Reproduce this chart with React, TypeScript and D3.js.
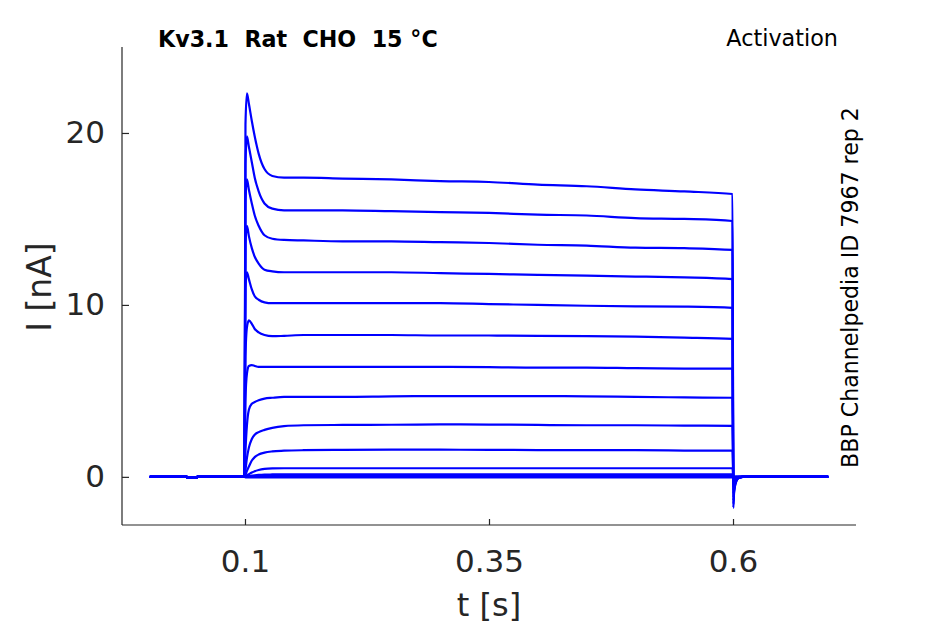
import React, { useEffect, useRef } from "react";
import * as d3 from "d3";

// time knots (s)
const baseTimes = [0.0025, 0.0405, 0.041, 0.0505, 0.051, 0.0995];
const baseCurrent = [0, 0, -0.04, -0.04, 0, 0];
const pulseTimes = [0.1005, 0.102, 0.104, 0.107, 0.11, 0.114, 0.12, 0.128, 0.14, 0.16, 0.2, 0.25, 0.3, 0.35, 0.4, 0.45, 0.5, 0.55, 0.5995];
const tailTimes = [0.6003, 0.601, 0.602, 0.6035, 0.606, 0.61, 0.6975];

// currents (nA) during pulse, then tail
const sweep1 = [20.5, 22.3, 21.7, 20.7, 19.8, 18.8, 17.9, 17.5, 17.4, 17.4, 17.35, 17.3, 17.2, 17.15, 17.0, 16.9, 16.72, 16.6, 16.45, -1.8, -1.0, -0.55, -0.25, -0.06, 0, 0];
const sweep2 = [18.2, 19.8, 19.2, 18.3, 17.4, 16.6, 15.9, 15.6, 15.5, 15.5, 15.5, 15.45, 15.4, 15.35, 15.25, 15.2, 15.05, 15.0, 14.88, -1.6, -0.9, -0.5, -0.22, -0.05, 0, 0];
const sweep3 = [16.0, 17.3, 16.7, 15.9, 15.2, 14.6, 14.05, 13.85, 13.78, 13.75, 13.7, 13.7, 13.65, 13.6, 13.5, 13.45, 13.33, 13.3, 13.2, -1.4, -0.8, -0.45, -0.2, -0.05, 0, 0];
const sweep4 = [13.5, 14.6, 14.0, 13.3, 12.8, 12.4, 12.05, 11.95, 11.9, 11.9, 11.9, 11.9, 11.85, 11.8, 11.75, 11.7, 11.65, 11.6, 11.5, -1.2, -0.7, -0.4, -0.18, -0.04, 0, 0];
const sweep5 = [11.0, 11.9, 11.5, 10.9, 10.5, 10.3, 10.15, 10.1, 10.1, 10.1, 10.1, 10.1, 10.1, 10.05, 10.0, 9.95, 9.92, 9.9, 9.83, -1.0, -0.6, -0.33, -0.15, -0.03, 0, 0];
const sweep6 = [7.0, 8.7, 9.1, 8.9, 8.6, 8.4, 8.25, 8.18, 8.2, 8.25, 8.25, 8.25, 8.22, 8.22, 8.2, 8.18, 8.15, 8.1, 8.02, -0.8, -0.45, -0.25, -0.12, -0.03, 0, 0];
const sweep7 = [4.5, 6.0, 6.45, 6.5, 6.45, 6.4, 6.4, 6.4, 6.4, 6.4, 6.4, 6.4, 6.4, 6.38, 6.35, 6.35, 6.32, 6.3, 6.3, -0.6, -0.35, -0.2, -0.09, -0.02, 0, 0];
const sweep8 = [1.5, 3.0, 3.9, 4.25, 4.35, 4.45, 4.55, 4.6, 4.65, 4.65, 4.65, 4.68, 4.7, 4.7, 4.7, 4.68, 4.65, 4.62, 4.6, -0.45, -0.25, -0.14, -0.06, -0.01, 0, 0];
const sweep9 = [0.4, 1.1, 1.7, 2.2, 2.45, 2.6, 2.73, 2.85, 2.95, 3.0, 3.02, 3.03, 3.05, 3.04, 3.02, 3.0, 3.0, 2.98, 2.97, -0.3, -0.17, -0.1, -0.04, -0.01, 0, 0];
const sweep10 = [0.1, 0.35, 0.6, 0.95, 1.15, 1.3, 1.41, 1.48, 1.52, 1.55, 1.57, 1.58, 1.58, 1.57, 1.56, 1.55, 1.55, 1.53, 1.52, -0.15, -0.08, -0.05, -0.02, 0, 0, 0];
const sweep11 = [0.02, 0.08, 0.15, 0.25, 0.33, 0.4, 0.46, 0.49, 0.5, 0.5, 0.5, 0.5, 0.5, 0.5, 0.5, 0.5, 0.5, 0.5, 0.5, -0.05, -0.03, -0.02, 0, 0, 0, 0];
const sweep12 = [0.0, 0.02, 0.04, 0.07, 0.09, 0.11, 0.13, 0.14, 0.15, 0.15, 0.15, 0.15, 0.15, 0.15, 0.15, 0.15, 0.15, 0.15, 0.15, -0.02, -0.01, 0, 0, 0, 0, 0];
const sweep13 = [0.0, 0.01, 0.02, 0.03, 0.04, 0.05, 0.05, 0.05, 0.05, 0.05, 0.05, 0.05, 0.05, 0.05, 0.05, 0.05, 0.05, 0.05, 0.05, 0, 0, 0, 0, 0, 0, 0];
const sweep14 = [0, 0, 0, 0, 0, 0, 0, 0, 0, 0, 0, 0, 0, 0, 0, 0, 0, 0, 0, 0, 0, 0, 0, 0, 0, 0];
const sweep15 = [-0.03, -0.03, -0.03, -0.03, -0.03, -0.03, -0.03, -0.03, -0.03, -0.03, -0.03, -0.03, -0.03, -0.03, -0.03, -0.03, -0.03, -0.03, -0.03, 0, 0, 0, 0, 0, 0, 0];

const sweeps = [sweep1, sweep2, sweep3, sweep4, sweep5, sweep6, sweep7, sweep8, sweep9, sweep10, sweep11, sweep12, sweep13, sweep14, sweep15];

const xTicks = [0.1, 0.35, 0.6];
const yTicks = [0, 10, 20];

const titleText = "Kv3.1  Rat  CHO  15 °C";
const protocolText = "Activation";
const sourceText = "BBP Channelpedia ID 7967 rep 2";
const xLabel = "t [s]";
const yLabel = "I [nA]";

const W = 945;
const H = 624;
const TEXT = "#262626";
const FONT = "'DejaVu Sans', sans-serif";

export default function App() {
  const ref = useRef<SVGGElement | null>(null);

  useEffect(() => {
    const root = d3.select(ref.current);
    root.selectAll("*").remove();

    const x = d3.scaleLinear().domain([-0.026, 0.726]).range([122, 856]);
    const y = d3.scaleLinear().domain([-2.8, 25]).range([525, 47]);

    const allTimes = [...baseTimes, ...pulseTimes, ...tailTimes];
    const line = d3
      .line<[number, number]>()
      .x((d) => x(d[0]))
      .y((d) => y(d[1]))
      .curve(d3.curveMonotoneX);

    const g = root.append("g");
    sweeps.forEach((s) => {
      const vals = [...baseCurrent, ...s];
      const pts: [number, number][] = allTimes.map((t, i) => [t, vals[i]]);
      g.append("path")
        .attr("d", line(pts) as string)
        .attr("fill", "none")
        .attr("stroke", "#0000ff")
        .attr("stroke-width", 2.2)
        .attr("stroke-linejoin", "round");
    });

    const xAxis = root
      .append("g")
      .attr("transform", "translate(0,525)")
      .call(
        d3
          .axisBottom(x)
          .tickValues(xTicks)
          .tickFormat((d) => String(d))
          .tickSizeInner(-6)
          .tickSizeOuter(0)
          .tickPadding(25)
      );
    const yAxis = root
      .append("g")
      .attr("transform", "translate(122,0)")
      .call(
        d3
          .axisLeft(y)
          .tickValues(yTicks)
          .tickFormat((d) => String(d))
          .tickSizeInner(-7)
          .tickSizeOuter(0)
          .tickPadding(17)
      );
    [xAxis, yAxis].forEach((a) => {
      a.select(".domain").attr("stroke", TEXT).attr("stroke-width", 1.2);
      a.selectAll(".tick line").attr("stroke", TEXT).attr("stroke-width", 1.2);
      a.selectAll(".tick text")
        .attr("fill", TEXT)
        .style("font-family", FONT)
        .style("font-size", "31px");
    });
    xAxis.select(".domain").attr("d", `M122,0H856`);
    yAxis.select(".domain").attr("d", "M0,47V525");
  }, []);

  return (
    <svg width={W} height={H} style={{ position: "absolute", left: 0, top: 0, background: "#fff" }}>
      <rect width={W} height={H} fill="#fff" />
      <g ref={ref} />
      <text x={489} y={616} textAnchor="middle" fill={TEXT} style={{ fontFamily: FONT, fontSize: 32 }}>
        {xLabel}
      </text>
      <text
        transform="translate(51,287) rotate(-90)"
        textAnchor="middle"
        fill={TEXT}
        style={{ fontFamily: FONT, fontSize: 33 }}
      >
        {yLabel}
      </text>
      <text x={158} y={47} fill="#000" style={{ fontFamily: FONT, fontSize: 22.2, fontWeight: "bold", whiteSpace: "pre" }}>
        {titleText}
      </text>
      <text x={838} y={46} textAnchor="end" fill="#000" style={{ fontFamily: FONT, fontSize: 22.3 }}>
        {protocolText}
      </text>
      <text
        transform="translate(858,287.5) rotate(-90)"
        textAnchor="middle"
        fill="#000"
        style={{ fontFamily: FONT, fontSize: 22.1 }}
      >
        {sourceText}
      </text>
    </svg>
  );
}
